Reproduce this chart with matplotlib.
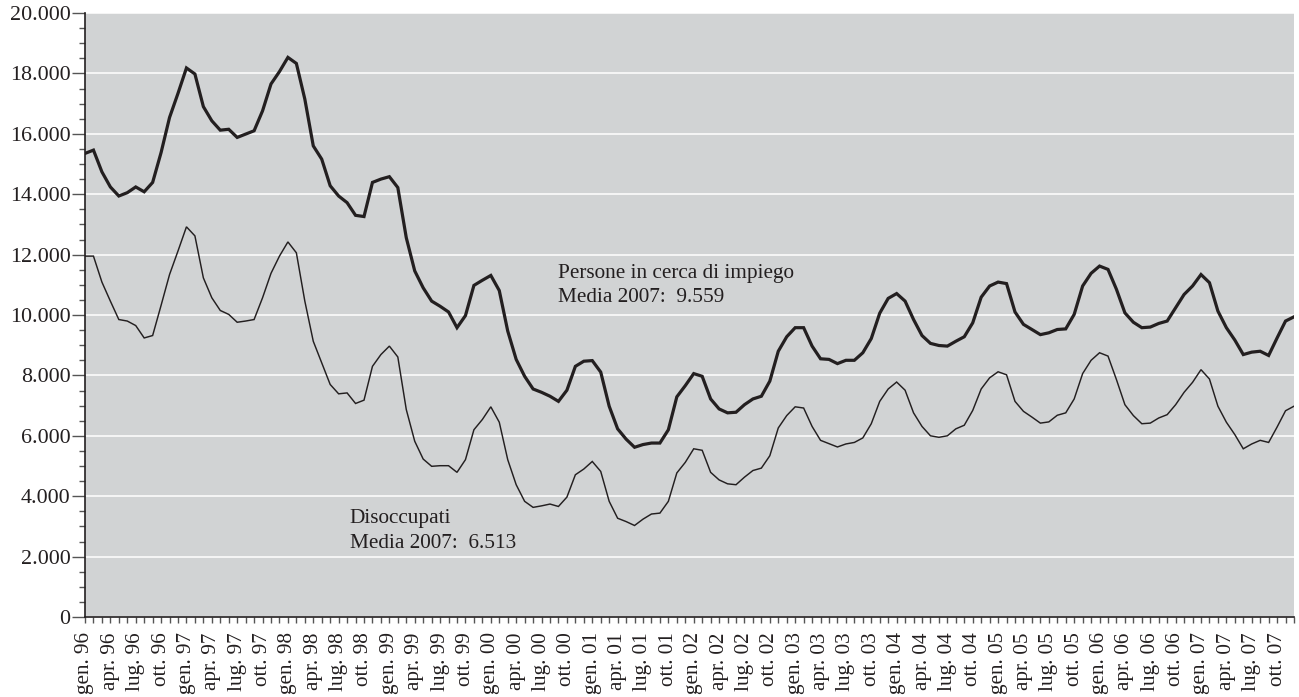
import matplotlib
matplotlib.use("Agg")
import matplotlib.pyplot as plt
from matplotlib.ticker import MultipleLocator, FixedLocator

# ---- data (monthly, gen. 1996 - dic. 2007) ----
persone_cerca_impiego = [
    15350, 15460, 14740, 14240, 13940, 14050, 14240, 14080, 14390, 15380, 16540, 17340,
    18180, 17980, 16900, 16430, 16120, 16150, 15880, 15990, 16100, 16760, 17650, 18060,
    18530, 18330, 17150, 15600, 15160, 14280, 13940, 13720, 13300, 13260, 14390, 14500,
    14580, 14220, 12560, 11460, 10900, 10460, 10290, 10100, 9580, 9980, 10980, 11150,
    11310, 10810, 9470, 8530, 7970, 7550, 7440, 7310, 7140, 7510, 8300, 8470,
    8490, 8110, 6980, 6230, 5890, 5620, 5710, 5760, 5760, 6200, 7290, 7660,
    8060, 7970, 7220, 6890, 6760, 6780, 7030, 7220, 7310, 7810, 8800, 9280,
    9580, 9580, 8970, 8550, 8530, 8390, 8500, 8500, 8750, 9220, 10060, 10550,
    10710, 10460, 9850, 9320, 9060, 8990, 8970, 9130, 9280, 9740, 10590, 10960,
    11090, 11040, 10100, 9690, 9520, 9350, 9410, 9520, 9540, 10020, 10960, 11380,
    11620, 11510, 10850, 10070, 9760, 9580, 9600, 9720, 9800, 10240, 10680, 10960,
    11340, 11070, 10130, 9580, 9170, 8690, 8770, 8800, 8660, 9240, 9800, 9940,
]
disoccupati = [
    11950, 11950, 11090, 10460, 9850, 9800, 9650, 9240, 9320, 10320, 11340, 12120,
    12920, 12620, 11230, 10570, 10150, 10020, 9760, 9800, 9850, 10570, 11380, 11950,
    12420, 12060, 10460, 9130, 8410, 7700, 7390, 7420, 7070, 7180, 8300, 8690,
    8970, 8610, 6870, 5820, 5230, 4990, 5010, 5010, 4790, 5210, 6200, 6540,
    6960, 6450, 5210, 4380, 3830, 3630, 3680, 3740, 3660, 3970, 4710, 4900,
    5150, 4820, 3830, 3270, 3160, 3030, 3240, 3410, 3440, 3830, 4770, 5120,
    5570, 5520, 4790, 4540, 4410, 4380, 4630, 4850, 4930, 5340, 6260, 6670,
    6960, 6920, 6310, 5850, 5740, 5630, 5730, 5780, 5930, 6400, 7140, 7550,
    7780, 7510, 6760, 6310, 6000, 5950, 6000, 6230, 6350, 6840, 7550, 7920,
    8120, 8020, 7140, 6810, 6620, 6420, 6460, 6680, 6760, 7220, 8060, 8500,
    8750, 8640, 7860, 7030, 6670, 6400, 6420, 6590, 6700, 7030, 7440, 7770,
    8190, 7880, 6980, 6450, 6040, 5570, 5730, 5850, 5780, 6290, 6830, 6980,
]
quarter_names = ["gen.", "apr.", "lug.", "ott."]
years = ["96", "97", "98", "99", "00", "01", "02", "03", "04", "05", "06", "07"]
tick_labels = [f"{q} {y}" for y in years for q in quarter_names]
label_persone = "Persone in cerca di impiego\nMedia 2007:  9.559"
label_disocc = "Disoccupati\nMedia 2007:  6.513"

# ---- style ----
plt.rcParams["font.family"] = ["Liberation Serif", "DejaVu Serif"]
ink = "#231f20"

fig = plt.figure(figsize=(12.99, 6.97), dpi=100)
ax = fig.add_axes([85 / 1299, 1 - 617 / 697, (1294 - 85) / 1299, (617 - 13) / 697])
ax.set_facecolor("#d1d3d4")

months = list(range(len(persone_cerca_impiego)))
ax.plot(months, persone_cerca_impiego, color=ink, lw=2.3, solid_joinstyle="miter", zorder=3)
ax.plot(months, disoccupati, color=ink, lw=1.05, solid_joinstyle="miter", zorder=3)

ax.set_xlim(0, len(months) - 1)
ax.set_ylim(0, 20000)

# grid
ax.yaxis.set_major_locator(MultipleLocator(2000))
ax.yaxis.set_minor_locator(MultipleLocator(500))
ax.grid(axis="y", which="major", color="white", lw=1.1)
ax.set_axisbelow(True)

ax.set_yticklabels([f"{int(v):,}".replace(",", ".") for v in ax.get_yticks()],
                   fontsize=15.8, color=ink)

ax.set_xticks(months[::3])
ax.set_xticklabels(tick_labels, rotation=90, fontsize=15.2, color=ink)
ax.xaxis.set_minor_locator(FixedLocator(months))

ax.tick_params(axis="y", which="major", length=9.5, width=1.0, color="#555555", pad=1)
ax.tick_params(axis="y", which="minor", length=4.5, width=1.0, color="#555555")
ax.tick_params(axis="x", which="both", length=4.5, width=1.0, color="#555555", pad=6.5)

for s in ["top", "right"]:
    ax.spines[s].set_visible(False)
for s in ["left", "bottom"]:
    ax.spines[s].set_color(ink)
    ax.spines[s].set_linewidth(1.2)

ax.text(55.9, 10980, label_persone, fontsize=15.3, color=ink, va="center", ha="left",
        linespacing=1.4)
ax.text(31.3, 2840, label_disocc, fontsize=15.3, color=ink, va="center", ha="left",
        linespacing=1.4)

fig.savefig("out.png", dpi=100, facecolor="white")
